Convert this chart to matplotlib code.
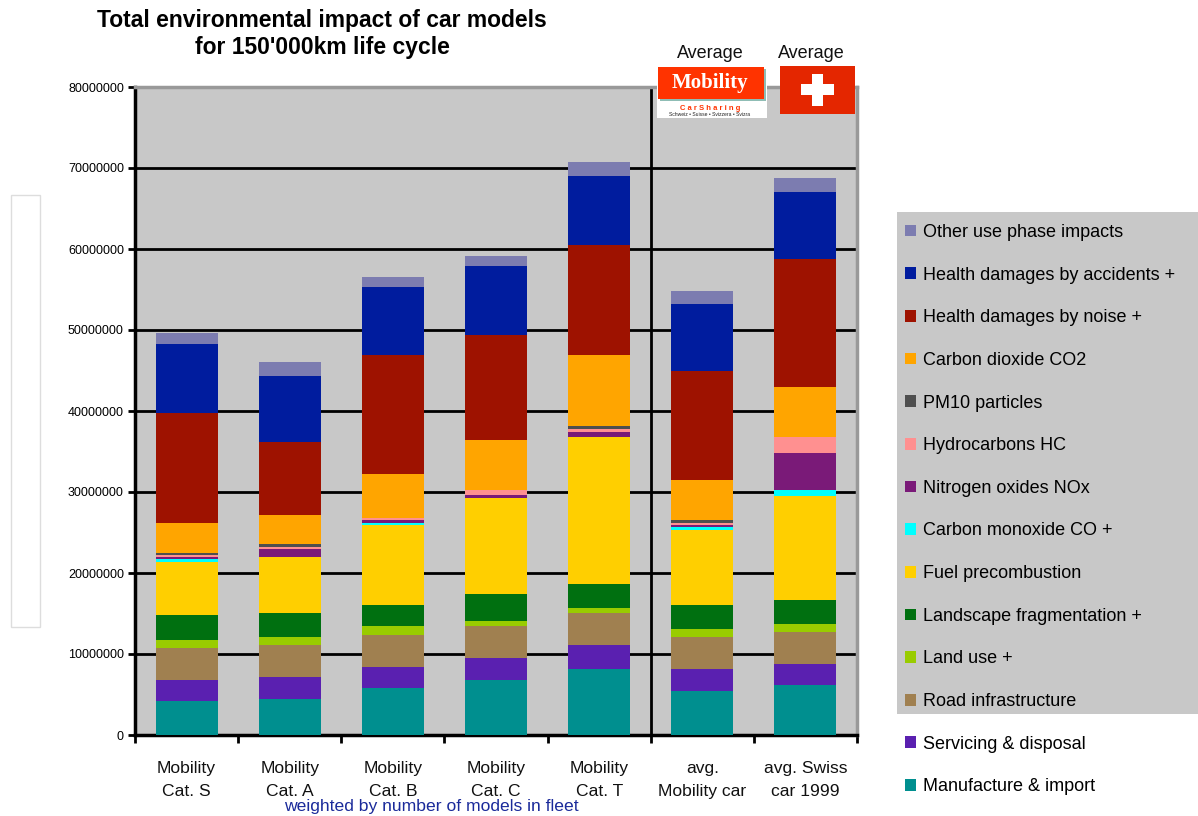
"""Stacked bars: total environmental impact of car models -> out.png"""
import matplotlib
matplotlib.use("Agg")
import matplotlib.pyplot as plt
from matplotlib.patches import Patch, Rectangle

plt.rcParams["font.family"] = ["Liberation Sans", "DejaVu Sans"]

CATEGORIES = ["Mobility\nCat. S", "Mobility\nCat. A", "Mobility\nCat. B", "Mobility\nCat. C",
              "Mobility\nCat. T", "avg.\nMobility car", "avg. Swiss\ncar 1999"]

# values in millions, bottom of stack first
MANUFACTURE = [4.2, 4.45, 5.8, 6.8, 8.15, 5.45, 6.15]
SERVICING = [2.6, 2.7, 2.6, 2.7, 2.95, 2.7, 2.6]
ROAD = [4.0, 3.95, 4.0, 3.9, 3.95, 3.95, 3.95]
LAND_USE = [0.9, 0.95, 1.0, 0.65, 0.65, 1.0, 1.0]
LANDSCAPE = [3.1, 3.0, 2.6, 3.35, 2.9, 2.9, 2.95]
FUEL = [6.55, 6.9, 9.9, 11.85, 18.2, 9.3, 12.9]
CO = [0.35, 0.0, 0.3, 0.0, 0.0, 0.35, 0.65]
NOX = [0.25, 1.0, 0.3, 0.35, 0.6, 0.25, 4.6]
HC = [0.25, 0.25, 0.25, 0.6, 0.35, 0.3, 2.0]
PM10 = [0.3, 0.35, 0.05, 0.05, 0.4, 0.3, 0.0]
CO2 = [3.7, 3.6, 5.45, 6.15, 8.75, 5.0, 6.2]
NOISE = [13.6, 9.0, 14.7, 13.0, 13.6, 13.4, 15.8]
ACCIDENTS = [8.5, 8.15, 8.3, 8.5, 8.5, 8.3, 8.2]
OTHER = [1.3, 1.75, 1.3, 1.25, 1.7, 1.6, 1.75]

SERIES = [
    ("Manufacture & import", MANUFACTURE, "#008F8F"),
    ("Servicing & disposal", SERVICING, "#5A20B0"),
    ("Road infrastructure", ROAD, "#A08050"),
    ("Land use +", LAND_USE, "#99CC00"),
    ("Landscape fragmentation +", LANDSCAPE, "#007010"),
    ("Fuel precombustion", FUEL, "#FFCF00"),
    ("Carbon monoxide CO +", CO, "#00FFFF"),
    ("Nitrogen oxides NOx", NOX, "#7A1A78"),
    ("Hydrocarbons HC", HC, "#FF9090"),
    ("PM10 particles", PM10, "#4F4F4F"),
    ("Carbon dioxide CO2", CO2, "#FFA500"),
    ("Health damages by noise +", NOISE, "#9E1200"),
    ("Health damages by accidents +", ACCIDENTS, "#001C9E"),
    ("Other use phase impacts", OTHER, "#7C7CB0"),
]

GRAY = "#C8C8C8"
W, H = 1198, 816

fig = plt.figure(figsize=(W / 100, H / 100), dpi=100)
ax = fig.add_axes([135 / W, (H - 735) / H, 722 / W, 648 / H], facecolor=GRAY)

# bars
positions = [i + 0.5 for i in range(len(CATEGORIES))]
bottom = [0.0] * len(CATEGORIES)
for name, values, color in SERIES:
    ax.bar(positions, [v * 1e6 for v in values], width=0.6, color=color,
           bottom=[b * 1e6 for b in bottom], zorder=3)
    bottom = [b + v for b, v in zip(bottom, values)]

ax.set_xlim(0, len(CATEGORIES))
ax.set_ylim(0, 80000000)
ax.set_yticks(range(0, 80000001, 10000000))
ax.ticklabel_format(axis="y", style="plain")
ax.grid(axis="y", color="black", linewidth=2, zorder=1)
ax.set_axisbelow(True)
ax.axvline(5, color="black", linewidth=2, zorder=2)

ax.set_xticks(range(len(CATEGORIES) + 1))
ax.set_xticklabels([])
ax.set_xticks(positions, minor=True)
ax.set_xticklabels(CATEGORIES, minor=True, fontsize=12.6, linespacing=1.6, color="#111111")
ax.tick_params(axis="x", which="minor", length=0, pad=19)
ax.tick_params(axis="x", which="major", length=6, width=2, color="black")
ax.tick_params(axis="y", length=5, width=2, labelsize=9, pad=3)

for side in ("left", "bottom"):
    ax.spines[side].set_linewidth(2.5)
for side in ("top", "right"):
    ax.spines[side].set_linewidth(2.5)
    ax.spines[side].set_color("#999999")

# overlay in pixel coordinates for the pictures and boxes
over = fig.add_axes([0, 0, 1, 1], zorder=2)
over.set_xlim(0, W)
over.set_ylim(H, 0)
over.axis("off")
over.patch.set_alpha(0)

over.add_patch(Rectangle((11, 195), 29, 432, facecolor="white", edgecolor="#DDDDDD", linewidth=1))
over.add_patch(Rectangle((897, 212), 301, 502, facecolor=GRAY, edgecolor="none"))

# Swiss flag
over.add_patch(Rectangle((780, 66), 75, 48, facecolor="#E42600", edgecolor="none"))
over.add_patch(Rectangle((812, 74), 11, 32, facecolor="white", edgecolor="none"))
over.add_patch(Rectangle((801, 84), 33, 11, facecolor="white", edgecolor="none"))

# Mobility logo
over.add_patch(Rectangle((657, 66), 110, 52, facecolor="white", edgecolor="none"))
over.add_patch(Rectangle((660, 69), 106, 32, facecolor="#8FBDB5", edgecolor="none"))
over.add_patch(Rectangle((658, 67), 106, 32, facecolor="#FF3300", edgecolor="none"))
over.text(710, 83, "Mobility", color="white", fontsize=15, fontweight="bold",
          family="Liberation Serif", ha="center", va="center")
over.text(710, 108, "C a r S h a r i n g", color="#FF3300", fontsize=5.5, fontweight="bold",
          ha="center", va="center")
over.text(710, 115, "Schweiz • Suisse • Svizzera • Svizra", color="#222222", fontsize=3.6,
          ha="center", va="center")

over.text(710, 53, "Average", fontsize=13, ha="center", va="center", color="#111111")
over.text(811, 53, "Average", fontsize=13, ha="center", va="center", color="#111111")

over.text(322, 34, "Total environmental impact of car models\nfor 150'000km life cycle",
          fontsize=16.5, fontweight="bold", ha="center", va="center", linespacing=1.2)
over.text(431, 806, "weighted by number of models in fleet", fontsize=12.6, color="#1A2A9A",
          ha="center", va="center")

handles = [Patch(facecolor=c, edgecolor="none", label=n) for n, _, c in reversed(SERIES)]
fig.legend(handles=handles, loc="upper left", bbox_to_anchor=(905 / W, 1 - 224 / H),
           frameon=False, fontsize=13, handlelength=0.62, handleheight=0.62,
           handletextpad=0.4, labelspacing=1.42, borderpad=0, borderaxespad=0)

fig.savefig("out.png", dpi=100)
